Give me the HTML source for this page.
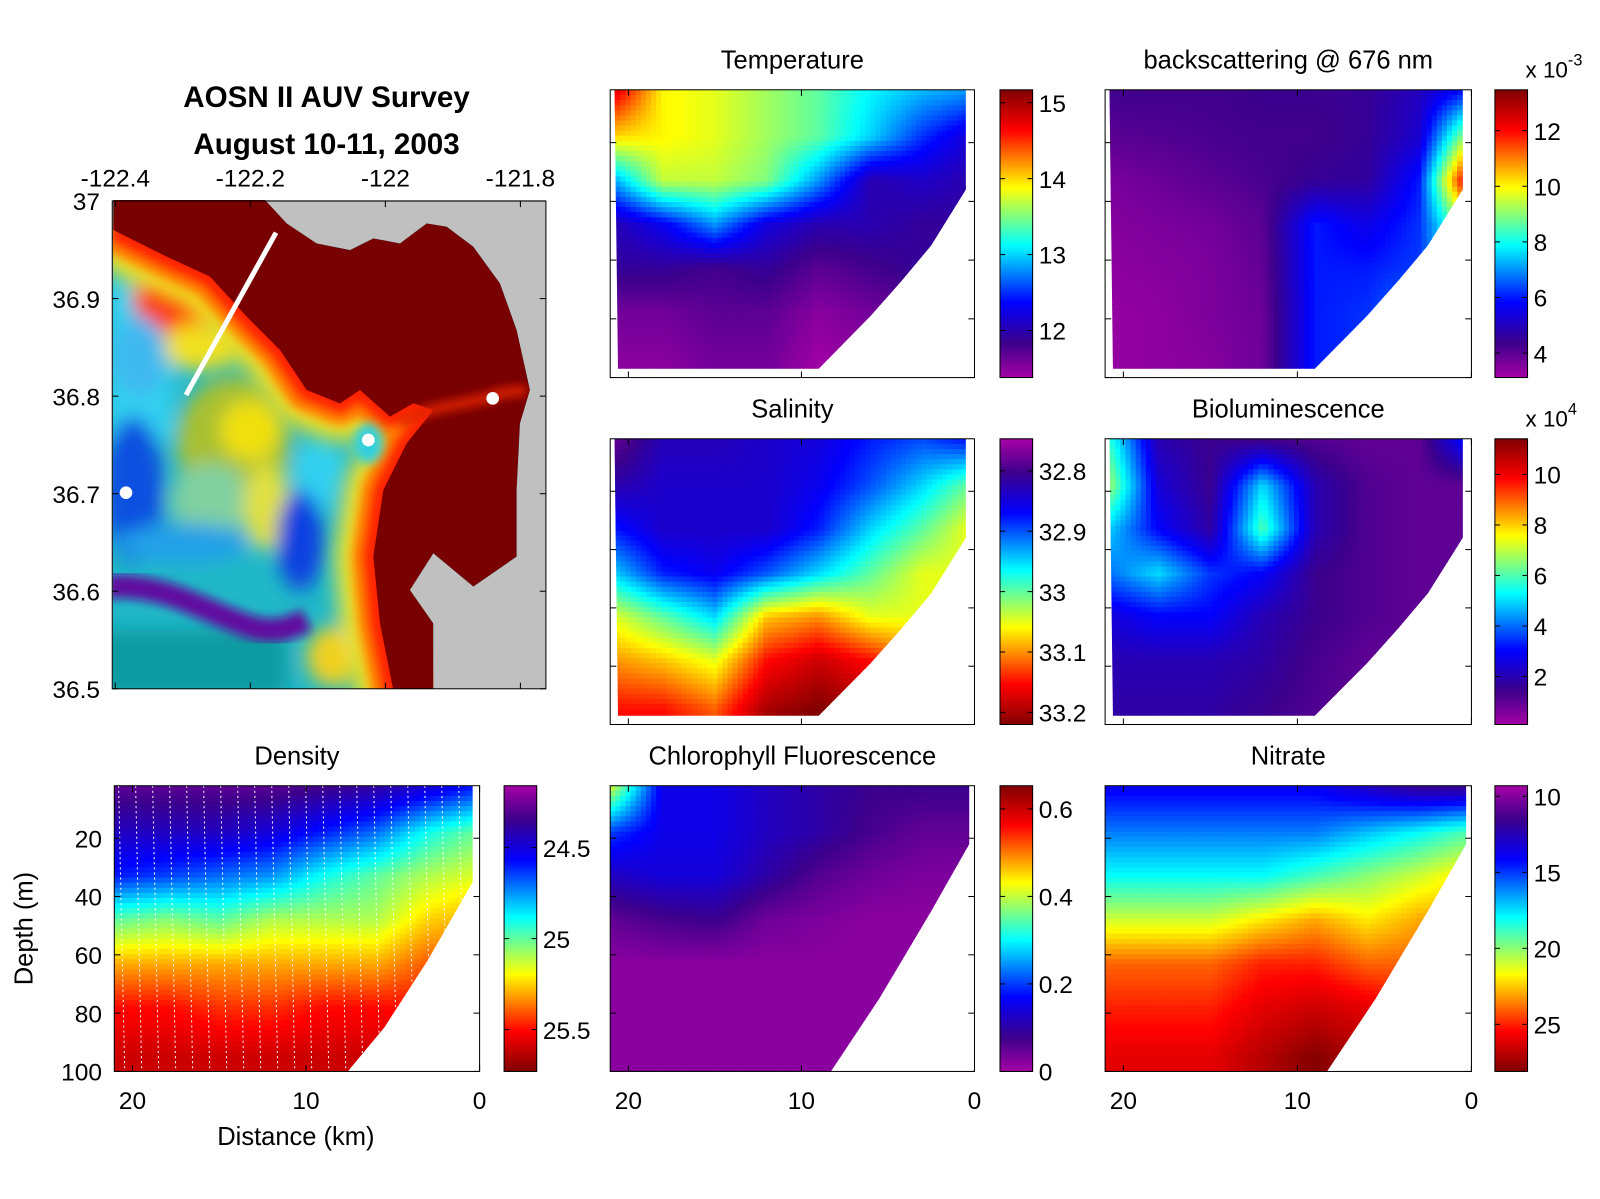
<!DOCTYPE html>
<html><head><meta charset="utf-8">
<style>
html,body{margin:0;padding:0;background:#fff;}
svg{display:block;font-family:"Liberation Sans",Arial,sans-serif;}
</style></head>
<body>
<svg id="fig" width="1600" height="1199" viewBox="0 0 1568 1175" preserveAspectRatio="none" xmlns="http://www.w3.org/2000/svg">
<defs>
<filter id="blurA" x="-30%" y="-30%" width="160%" height="160%"><feGaussianBlur stdDeviation="28"/></filter>
<filter id="blurB" x="-30%" y="-30%" width="160%" height="160%"><feGaussianBlur stdDeviation="14"/></filter>
<filter id="blurC" x="-30%" y="-30%" width="160%" height="160%"><feGaussianBlur stdDeviation="30"/></filter>
<clipPath id="mapclip"><rect x="38" y="30" width="1300" height="1467"/></clipPath>
<clipPath id="dataclip"><polygon points="38,30 495,30 560,100 650,160 750,180 820,145 900,160 980,100 1040,110 1120,170 1200,280 1250,420 1290,600 1260,700 1250,900 1250,1100 1120,1190 1000,1090 930,1200 1000,1300 1000,1500 38,1500"/></clipPath>
</defs>

<!-- MAP PANEL -->
<g>
<text x="320" y="105" font-size="29" font-weight="bold" text-anchor="middle">AOSN II AUV Survey</text>
<text x="320" y="151" font-size="29" font-weight="bold" text-anchor="middle">August 10-11, 2003</text>
<g transform="scale(0.98) translate(100,190) scale(0.33333)">
<g clip-path="url(#mapclip)">
<rect x="0" y="0" width="1400" height="1550" fill="#c0c0c0"/>
<g clip-path="url(#dataclip)">
<rect x="0" y="0" width="1400" height="1550" fill="#20b8c8"/>
<g filter="url(#blurA)">
<rect x="20" y="250" width="200" height="500" fill="#30d0f0"/>
<ellipse cx="230" cy="330" rx="130" ry="110" fill="#ff3010"/>
<ellipse cx="300" cy="470" rx="120" ry="70" fill="#f0e020"/>
<ellipse cx="120" cy="500" rx="80" ry="120" fill="#40b8f0"/>
<ellipse cx="100" cy="900" rx="90" ry="220" fill="#1050e0"/>
<ellipse cx="400" cy="760" rx="170" ry="200" fill="#a8c030"/>
<ellipse cx="450" cy="720" rx="90" ry="90" fill="#f0e010"/>
<ellipse cx="330" cy="930" rx="120" ry="110" fill="#80d0a0"/>
<ellipse cx="500" cy="950" rx="70" ry="130" fill="#e0e040"/>
<ellipse cx="250" cy="1060" rx="200" ry="60" fill="#20a0e8"/>
<ellipse cx="660" cy="850" rx="80" ry="110" fill="#30d0f0"/>
<ellipse cx="600" cy="1050" rx="70" ry="150" fill="#1040e0"/>
<ellipse cx="760" cy="950" rx="60" ry="90" fill="#30c0f0"/>
<ellipse cx="780" cy="1200" rx="60" ry="200" fill="#40d0e0"/>
<rect x="0" y="1320" width="560" height="200" fill="#109aa0"/>
<ellipse cx="700" cy="1400" rx="80" ry="90" fill="#f0d020"/>
</g>
<path d="M20,1190 C200,1180 300,1260 450,1310 C520,1330 560,1320 620,1290" stroke="#6010a0" stroke-width="70" fill="none" filter="url(#blurB)"/>
<g fill="none" stroke-linejoin="round">
<polyline points="1000,1500 880,1500 840,1300 820,1100 850,900 920,760 1000,660 940,640 870,680 780,600 720,640 620,600 540,480 440,380 330,260 200,200 120,160 40,120" stroke="#f0e020" stroke-width="230" filter="url(#blurC)"/>
<polyline points="1000,1500 880,1500 840,1300 820,1100 850,900 920,760 1000,660 940,640 870,680 780,600 720,640 620,600 540,480 440,380 330,260 200,200 120,160 40,120" stroke="#ff8000" stroke-width="130" filter="url(#blurB)"/>
<polyline points="1000,1500 880,1500 840,1300 820,1100 850,900 920,760 1000,660 940,640 870,680 780,600 720,640 620,600 540,480 440,380 330,260 200,200 120,160 40,120" stroke="#ff2000" stroke-width="60" filter="url(#blurB)"/>
</g>
<ellipse cx="805" cy="760" rx="45" ry="60" fill="#30d0e0" filter="url(#blurB)"/>
<polygon points="40,0 495,0 560,100 650,160 750,180 820,145 900,160 980,100 1040,110 1120,170 1200,280 1250,420 1290,600 1260,700 1250,900 1250,1100 1120,1190 1000,1090 930,1200 1000,1300 1000,1500 880,1500 840,1300 820,1100 850,900 920,760 1000,660 940,640 870,680 780,600 720,640 620,600 540,480 440,380 330,260 200,200 120,160 40,120" fill="#780000"/>
<path d="M900,700 C1000,640 1100,650 1200,610 L1280,600" stroke="#e02000" stroke-width="30" fill="none" filter="url(#blurB)"/>
</g>
<line x1="258" y1="615" x2="528" y2="128" stroke="#fff" stroke-width="15"/>
<circle cx="78" cy="908" r="19" fill="#fff"/>
<circle cx="805" cy="750" r="19" fill="#fff"/>
<circle cx="1178" cy="625" r="19" fill="#fff"/>
</g>
</g>
<rect x="110" y="197" width="425" height="478" fill="none" stroke="#000" stroke-width="1"/>
<g id="mapticks"></g>
</g>

<g id="panels"></g>
</svg>
<script>
// ---- data ----
const distances=[21,18,15,12,9,6,3,0.5];
const depths=[3,18,33,48,63,78,95];
const temperature=[
[14.8,13.9,13.8,13.6,13.4,13.1,12.9,12.8],
[14.0,13.9,13.8,13.6,13.4,13.0,12.5,12.2],
[12.8,13.7,13.7,13.5,12.8,12.0,12.1,12.0],
[12.0,12.3,12.8,12.2,12.0,12.0,11.9,11.9],
[11.9,11.9,11.8,11.9,11.7,11.8,11.9,11.8],
[11.6,11.6,11.7,11.7,11.5,11.6,11.7,11.7],
[11.5,11.5,11.6,11.6,11.4,11.5,11.5,11.5]];
const backscatter=[
[4.3,4.3,4.3,4.4,4.4,4.5,5.0,6.0],
[4.0,4.1,4.2,4.3,4.3,4.5,5.2,9.0],
[3.6,3.8,4.0,4.2,4.5,4.6,6.0,12.0],
[3.5,3.6,3.7,4.0,6.0,5.5,6.2,9.0],
[3.4,3.5,3.6,3.9,6.0,6.0,6.3,8.0],
[3.3,3.4,3.6,3.8,6.0,6.2,7.0,7.5],
[3.3,3.4,3.5,3.8,6.0,6.2,6.5,6.5]];
const salinity=[
[32.78,32.83,32.83,32.84,32.85,32.88,32.90,32.88],
[32.82,32.84,32.84,32.84,32.86,32.90,32.95,33.00],
[32.88,32.84,32.84,32.84,32.88,32.95,33.00,33.05],
[32.95,32.88,32.86,32.90,32.95,33.00,33.05,33.05],
[33.05,33.00,32.95,33.08,33.10,33.05,33.05,33.05],
[33.10,33.08,33.05,33.15,33.18,33.15,33.10,33.10],
[33.15,33.15,33.12,33.20,33.22,33.20,33.20,33.20]];
const bioluminescence=[
[6.0,2.0,1.5,1.5,1.2,1.0,1.0,3.0],
[7.0,2.5,1.5,5.0,2.0,1.2,1.0,1.0],
[5.0,3.0,1.8,6.0,2.0,1.2,1.0,1.0],
[4.0,5.0,3.5,3.0,1.5,1.2,1.0,1.0],
[2.5,3.0,3.0,2.0,1.5,1.2,1.0,1.0],
[2.0,2.0,2.0,1.8,1.3,1.0,1.0,1.0],
[1.8,1.8,1.8,1.5,1.2,1.0,1.0,1.0]];
const density=[
[24.30,24.30,24.30,24.30,24.35,24.40,24.50,24.60],
[24.45,24.45,24.45,24.50,24.60,24.70,24.90,25.00],
[24.60,24.65,24.70,24.75,24.90,25.00,25.10,25.15],
[25.00,25.05,25.00,25.10,25.10,25.10,25.25,25.30],
[25.30,25.30,25.30,25.30,25.30,25.30,25.40,25.40],
[25.50,25.50,25.45,25.45,25.50,25.50,25.50,25.50],
[25.60,25.60,25.60,25.60,25.60,25.60,25.60,25.60]];
const chlorophyll=[
[0.40,0.15,0.15,0.12,0.10,0.08,0.08,0.08],
[0.20,0.15,0.15,0.12,0.10,0.07,0.05,0.05],
[0.12,0.14,0.14,0.10,0.06,0.04,0.03,0.03],
[0.05,0.07,0.08,0.04,0.03,0.02,0.02,0.02],
[0.02,0.02,0.02,0.02,0.02,0.02,0.02,0.02],
[0.02,0.02,0.02,0.02,0.02,0.02,0.02,0.02],
[0.02,0.02,0.02,0.02,0.02,0.02,0.02,0.02]];
const nitrate=[
[14,14,14,14,14,13,12,12],
[16,16,16,16,16,17,18,19],
[18,18,18,18,19,20,21,22],
[21,21,21,22,23,22,23,23],
[24,24,24,25,25,24,24,24],
[25,25,25,26,26.5,26,25,25],
[26,26,26,27,28,27,26,26]];
const depthTicks=[20,40,60,80,100];
const distTicks=[20,10,0];
const mapLonTicks=[-122.4,-122.2,-122,-121.8];
const mapLatTicks=[37,36.9,36.8,36.7,36.6,36.5];

const NS="http://www.w3.org/2000/svg";
function el(tag,attrs,parent){const e=document.createElementNS(NS,tag);for(const k in attrs)e.setAttribute(k,attrs[k]);if(parent)parent.appendChild(e);return e;}

const stops=[[0,[165,0,165]],[0.12,[60,0,140]],[0.26,[0,0,255]],[0.46,[0,255,255]],[0.66,[255,255,0]],[0.86,[255,0,0]],[1,[128,0,0]]];
function cmap(t){t=Math.max(0,Math.min(1,t));for(let i=1;i<stops.length;i++){if(t<=stops[i][0]){const a=stops[i-1],b=stops[i];const f=(t-a[0])/(b[0]-a[0]);const c=a[1].map((v,j)=>Math.round(v+(b[1][j]-v)*f));return `rgb(${c[0]},${c[1]},${c[2]})`;}}return 'rgb(128,0,0)';}

function fracIdx(arr,v){
  const inc=arr[arr.length-1]>arr[0];
  for(let i=0;i<arr.length-1;i++){const a=arr[i],b=arr[i+1];
    if(inc?(v<=b):(v>=b)){let f=(v-a)/(b-a);return i+Math.max(0,Math.min(1,f));}}
  return arr.length-1;
}
function interp(grid,d,z){
  const fi=fracIdx(distances,Math.min(21,Math.max(0.5,d)));
  const fj=fracIdx(depths,Math.min(95,Math.max(3,z)));
  const i0=Math.floor(fi),j0=Math.floor(fj),i1=Math.min(i0+1,distances.length-1),j1=Math.min(j0+1,depths.length-1);
  const fx=fi-i0,fy=fj-j0;
  const a=grid[j0][i0]*(1-fx)+grid[j0][i1]*fx;
  const b=grid[j1][i0]*(1-fx)+grid[j1][i1]*fx;
  return a*(1-fy)+b*fy;
}

const panels=document.getElementById('panels');
const topBoundary=[[20.8,2],[0.5,2],[0.5,36],[2.5,55],[4.2,67],[6,79],[9,97],[20.6,97]];
const botBoundary=[[21.05,2],[0.3,2],[0.3,22],[2.5,45],[5.5,75],[8.3,100],[21.05,100]];
const denBoundary=[[21.05,2],[0.4,2],[0.4,35],[3,62],[5.5,85],[7.6,100],[21.05,100]];

let clipN=0;
function section(cfg){
  const g=el('g',{},panels);
  
  
  const {x0,y0,w,h}=cfg;
  const xs=d=>x0+w*(21.05-d)/21.05;
  const ys=z=>y0+(z-2)/98*h;
  const xinv=px=>21.05-(px-x0)/w*21.05;
  const yinv=py=>2+(py-y0)/h*98;
  const t=el('text',{x:x0+w/2,y:y0-21,'font-size':25,'text-anchor':'middle'},g);
  t.textContent=cfg.title;
  
  
  const cid='clip'+(clipN++);
  const cp=el('clipPath',{id:cid},g);
  el('polygon',{points:cfg.boundary.map(p=>xs(p[0])+','+ys(p[1])).join(' ')},cp);
  const field=el('g',{'clip-path':`url(#${cid})`},g);
  
  
  const step=5;
  for(let py=y0;py<y0+h;py+=step){for(let px=x0;px<x0+w;px+=step){
    const v=interp(cfg.grid,xinv(px+step/2),yinv(py+step/2));
    const c=cmap((v-cfg.vmin)/(cfg.vmax-cfg.vmin));
    el('rect',{x:px,y:py,width:step+0.6,height:step+0.6,fill:c},field);
  }}
  if(cfg.profiles){
    const pg=el('g',{'clip-path':`url(#${cid})`,stroke:'#fff','stroke-width':1,'stroke-dasharray':'2,3',fill:'none'},g);
    
    
    for(let d=20.8;d>0.3;d-=0.98){
      el('line',{x1:xs(d),y1:ys(2),x2:xs(d-0.35),y2:ys(100)},pg);
    }
  }
  el('rect',{x:x0,y:y0,width:w,height:h,fill:'none',stroke:'#000','stroke-width':1},g);
  depthTicks.forEach(z=>{const y=ys(z);if(y>y0+h+1)return;
    el('line',{x1:x0,y1:y,x2:x0+6,y2:y,stroke:'#000'},g);
    el('line',{x1:x0+w,y1:y,x2:x0+w-6,y2:y,stroke:'#000'},g);
    if(cfg.ylabels){const tt=el('text',{x:x0-12,y:y+9,'font-size':24,'text-anchor':'end'},g);tt.textContent=z;}
  });
  distTicks.forEach(d=>{const x=xs(d);
    el('line',{x1:x,y1:y0+h,x2:x,y2:y0+h-6,stroke:'#000'},g);
    el('line',{x1:x,y1:y0,x2:x,y2:y0+6,stroke:'#000'},g);
    if(cfg.xlabels){const tt=el('text',{x:x,y:y0+h+37,'font-size':24,'text-anchor':'middle'},g);tt.textContent=d;}
  });
  const cb=el('g',{},g);
  
  
  const cx=cfg.cbx,cw=32;
  const gid='grad'+cid;
  const lg=el('linearGradient',{id:gid,x1:0,y1:cfg.cbFlip?0:1,x2:0,y2:cfg.cbFlip?1:0},cb);
  stops.forEach(s=>el('stop',{offset:s[0],'stop-color':cmap(s[0])},lg));
  el('rect',{x:cx,y:y0,width:cw,height:h,fill:`url(#${gid})`,stroke:'#000'},cb);
  cfg.cbTicks.forEach(tv=>{
    const f=(tv-cfg.vmin)/(cfg.vmax-cfg.vmin);
    const y=cfg.cbFlip? y0+f*h : y0+h-f*h;
    el('line',{x1:cx,y1:y,x2:cx+5,y2:y,stroke:'#000'},cb);
    el('line',{x1:cx+cw,y1:y,x2:cx+cw-5,y2:y,stroke:'#000'},cb);
    const tt=el('text',{x:cx+cw+6,y:y+9,'font-size':24},cb);tt.textContent=tv;
  });
  if(cfg.mult){
    const tt=el('text',{x:cx+30,y:y0-12,'font-size':22},cb);
    tt.innerHTML='x 10<tspan dy="-12" font-size="16">'+cfg.mult+'</tspan>';
    
    
  }
  return g;
}

section({name:'temperature',title:'Temperature',x0:598,y0:88,w:357,h:282,grid:temperature,vmin:11.38,vmax:15.17,boundary:topBoundary,cbx:980,cbTicks:[12,13,14,15]});
section({name:'backscattering',title:'backscattering @ 676 nm',x0:1083,y0:88,w:359,h:282,grid:backscatter,vmin:3.12,vmax:13.47,boundary:topBoundary,cbx:1465,cbTicks:[4,6,8,10,12],mult:'-3'});
section({name:'salinity',title:'Salinity',x0:598,y0:430,w:357,h:280,grid:salinity,vmin:32.747,vmax:33.22,boundary:topBoundary,cbx:980,cbTicks:[32.8,32.9,33,33.1,33.2],cbFlip:true});
section({name:'bioluminescence',title:'Bioluminescence',x0:1083,y0:430,w:359,h:280,grid:bioluminescence,vmin:0.1,vmax:11.41,boundary:topBoundary,cbx:1465,cbTicks:[2,4,6,8,10],mult:'4'});
section({name:'density',title:'Density',x0:112,y0:770,w:358,h:280,grid:density,vmin:24.16,vmax:25.73,boundary:denBoundary,cbx:494,cbTicks:[24.5,25,25.5],cbFlip:true,ylabels:true,xlabels:true,profiles:true});
section({name:'chlorophyll',title:'Chlorophyll Fluorescence',x0:598,y0:770,w:357,h:280,grid:chlorophyll,vmin:0,vmax:0.653,boundary:botBoundary,cbx:980,cbTicks:[0,0.2,0.4,0.6],xlabels:true});
section({name:'nitrate',title:'Nitrate',x0:1083,y0:770,w:359,h:280,grid:nitrate,vmin:9.3,vmax:28.1,boundary:botBoundary,cbx:1465,cbTicks:[10,15,20,25],cbFlip:true,xlabels:true});

const xl=el('text',{x:290,y:1122,'font-size':25,'text-anchor':'middle'},panels);
xl.textContent='Distance (km)';


const yl=el('text',{x:0,y:0,'font-size':25,'text-anchor':'middle',transform:'translate(32,910) rotate(-90)'},panels);
yl.textContent='Depth (m)';



const mt=document.getElementById('mapticks');
const lonX=v=>113+(v+122.4)/0.6*397;
const latY=v=>197+(37-v)/0.5*478;
mapLonTicks.forEach(v=>{const x=lonX(v);
  el('line',{x1:x,y1:197,x2:x,y2:203,stroke:'#000'},mt);
  el('line',{x1:x,y1:675,x2:x,y2:669,stroke:'#000'},mt);
  const t=el('text',{x:x,y:183,'font-size':24,'text-anchor':'middle'},mt);t.textContent=v;});
mapLatTicks.forEach(v=>{const y=latY(v);
  el('line',{x1:110,y1:y,x2:116,y2:y,stroke:'#000'},mt);
  el('line',{x1:535,y1:y,x2:529,y2:y,stroke:'#000'},mt);
  const t=el('text',{x:98,y:y+9,'font-size':24,'text-anchor':'end'},mt);t.textContent=v;});
</script>
</body></html>
